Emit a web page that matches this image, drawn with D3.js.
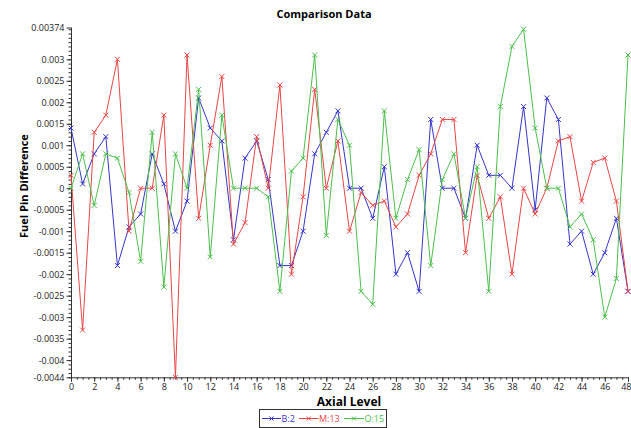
<!DOCTYPE html>
<html>
<head>
<meta charset="utf-8">
<script src="https://cdn.jsdelivr.net/npm/d3@7"></script>
<style>
  body { margin: 0; background: #fff; }
  svg { display: block; }
  text { font-family: 'Open Sans', sans-serif; }
</style>
</head>
<body>
<div id="chart"></div>
<script>
// axial levels (x categories)
const levels = [0,1,2,3,4,5,6,7,8,9,10,11,12,13,14,15,16,17,18,19,20,21,22,23,24,
  25,26,27,28,29,30,31,32,33,34,35,36,37,38,39,40,41,42,43,44,45,46,47,48];

// fuel pin differences per series
const b2 = [0.0014, 0.0001, 0.0008, 0.0012, -0.0018, -0.0009, -0.0006, 0.0008, 0.0001, -0.001,
  -0.0003, 0.0021, 0.0014, 0.0011, -0.0012, 0.0007, 0.0011, 0.0002, -0.0018, -0.0018,
  -0.001, 0.0008, 0.0013, 0.0018, 0, 0, -0.0007, 0.0005, -0.002, -0.0015,
  -0.0024, 0.0016, 0, 0, -0.0007, 0.001, 0.0003, 0.0003, 0, 0.0019,
  -0.0005, 0.0021, 0.0016, -0.0013, -0.001, -0.002, -0.0015, -0.0007, -0.0024];
const m13 = [0.0003, -0.0033, 0.0013, 0.0017, 0.003, -0.001, 0, 0, 0.0017, -0.0044,
  0.0031, -0.0007, 0.001, 0.0026, -0.0013, -0.0008, 0.0012, 0, 0.0024, -0.002,
  -0.0002, 0.0023, 0, 0.0011, -0.001, -0.0001, -0.0004, -0.0003, -0.0009, -0.0006,
  0.0003, 0.0008, 0.0016, 0.0016, -0.0015, 0.0003, -0.0007, -0.0002, -0.002, 0,
  -0.0006, 0, 0.0011, 0.0012, -0.0003, 0.0006, 0.0007, -0.0003, -0.0024];
const o15 = [0, 0.0008, -0.0004, 0.0008, 0.0007, -0.0001, -0.0017, 0.0013, -0.0023, 0.0008,
  0, 0.0023, -0.0016, 0.0017, 0, 0, 0, -0.0002, -0.0024, 0.0004,
  0.0007, 0.0031, -0.0011, 0.0016, 0.001, -0.0024, -0.0027, 0.0018, -0.0007, 0.0002,
  0.0009, -0.0018, 0.0002, 0.0008, -0.0007, 0.0005, -0.0024, 0.0019, 0.0033, 0.0037,
  0.0014, 0, 0, -0.0009, -0.0006, -0.0012, -0.003, -0.0021, 0.0031];

const seriesNames = ['B:2', 'M:13', 'O:15'];
const seriesColors = ['#3535c8', '#e64646', '#4cbf4c'];

// tick labels on the axes
const yTickLabels = [0.00374, 0.003, 0.0025, 0.002, 0.0015, 0.001, 0.0005, 0, -0.0005, -0.001,
  -0.0015, -0.002, -0.0025, -0.003, -0.0035, -0.004, -0.0044];
const xTickLabels = [0,2,4,6,8,10,12,14,16,18,20,22,24,26,28,30,32,34,36,38,40,42,44,46,48];

const yMin = -0.0044, yMax = 0.00374;

var width = 631, height = 428;
var margin = {left: 71, right: 3, top: 27.5, bottom: 50.7};

var svg = d3.select('#chart').append('svg')
  .attr('width', width)
  .attr('height', height);

var x = d3.scaleLinear()
  .domain([levels[0], levels[levels.length - 1]])
  .range([margin.left, width - margin.right]);

var y = d3.scaleLinear()
  .domain([yMin, yMax])
  .range([height - margin.bottom, margin.top]);

// y axis: minor ticks every 0.0001, labelled majors
var yMinor = d3.range(-44, 38).map(d => d / 10000);
svg.append('g')
  .attr('transform', 'translate(' + margin.left + ',0)')
  .call(d3.axisLeft(y).tickValues(yMinor).tickSize(2.5).tickFormat(''))
  .call(g => g.select('.domain').remove())
  .selectAll('line').attr('stroke', '#333');

var yAxis = svg.append('g')
  .attr('transform', 'translate(' + margin.left + ',0)')
  .call(d3.axisLeft(y).tickValues(yTickLabels).tickSize(4.5).tickPadding(2)
    .tickFormat(d => String(+d.toFixed(5))));
yAxis.select('.domain').attr('stroke', '#333').attr('d', 'M0.5,' + y(yMin) + 'V' + y(yMax));
yAxis.selectAll('line').attr('stroke', '#333');
yAxis.selectAll('text')
  .style('font-size', '9px')
  .attr('fill', '#222');

// x axis: minor ticks every 0.5, labels every 2
var xMinor = d3.range(0, 97).map(d => d / 2);
svg.append('g')
  .attr('transform', 'translate(0,' + y(yMin) + ')')
  .call(d3.axisBottom(x).tickValues(xMinor).tickSize(2.5).tickFormat(''))
  .call(g => g.select('.domain').remove())
  .selectAll('line').attr('stroke', '#333');

var xAxis = svg.append('g')
  .attr('transform', 'translate(0,' + y(yMin) + ')')
  .call(d3.axisBottom(x).tickValues(xTickLabels).tickSize(4.5).tickPadding(2).tickFormat(d3.format('d')));
xAxis.select('.domain').attr('stroke', '#333').attr('d', 'M' + x(0) + ',0.5H' + x(48));
xAxis.selectAll('line').attr('stroke', '#333');
xAxis.selectAll('text')
  .style('font-size', '9px')
  .attr('fill', '#222');
// keep the last label inside the window
xAxis.selectAll('text').filter(d => d === 48)
  .attr('text-anchor', 'end')
  .attr('x', 3);

// series lines
var line = d3.line()
  .x((d, i) => x(levels[i]))
  .y(d => y(d));

[b2, m13, o15].forEach((vals, s) => {
  var g = svg.append('g').attr('class', 'series');
  g.append('path')
    .datum(vals)
    .attr('fill', 'none')
    .attr('stroke', seriesColors[s])
    .attr('stroke-width', 1)
    .attr('d', line);
  g.selectAll('path.mark')
    .data(vals)
    .enter()
    .append('path')
    .attr('class', 'mark')
    .attr('transform', (d, i) => 'translate(' + x(levels[i]) + ',' + y(d) + ')')
    .attr('d', 'M-2.5,-2.5L2.5,2.5M-2.5,2.5L2.5,-2.5')
    .attr('stroke', seriesColors[s])
    .attr('stroke-width', 1);
});

// titles
svg.append('text')
  .attr('x', 324)
  .attr('y', 18)
  .attr('text-anchor', 'middle')
  .style('font-size', '11px')
  .style('font-weight', 'bold')
  .text('Comparison Data');

svg.append('text')
  .attr('x', 349)
  .attr('y', 406)
  .attr('text-anchor', 'middle')
  .style('font-size', '12px')
  .style('font-weight', 'bold')
  .text('Axial Level');

svg.append('text')
  .attr('transform', 'translate(28,' + y(0.00005) + ') rotate(-90)')
  .attr('text-anchor', 'middle')
  .style('font-size', '11px')
  .style('font-weight', 'bold')
  .text('Fuel Pin Difference');

// legend
var legend = svg.append('g').attr('transform', 'translate(259.5,409.5)');
legend.append('rect')
  .attr('width', 127)
  .attr('height', 18)
  .attr('fill', '#fff')
  .attr('stroke', '#333');

var legendX = [2.5, 39.5, 84.5];
var legendW = [19, 19.5, 20];
seriesNames.forEach((name, s) => {
  var item = legend.append('g').attr('transform', 'translate(' + legendX[s] + ',9)');
  item.append('line')
    .attr('x1', 0).attr('x2', legendW[s])
    .attr('stroke', seriesColors[s]);
  item.append('path')
    .attr('transform', 'translate(' + (legendW[s] / 2) + ',0)')
    .attr('d', 'M-2,-2L2,2M-2,2L2,-2')
    .attr('stroke', seriesColors[s]);
  item.append('text')
    .attr('x', legendW[s] + 0.5)
    .attr('y', 3.2)
    .style('font-size', '9px')
    .attr('fill', seriesColors[s])
    .text(name);
});
</script>
</body>
</html>
